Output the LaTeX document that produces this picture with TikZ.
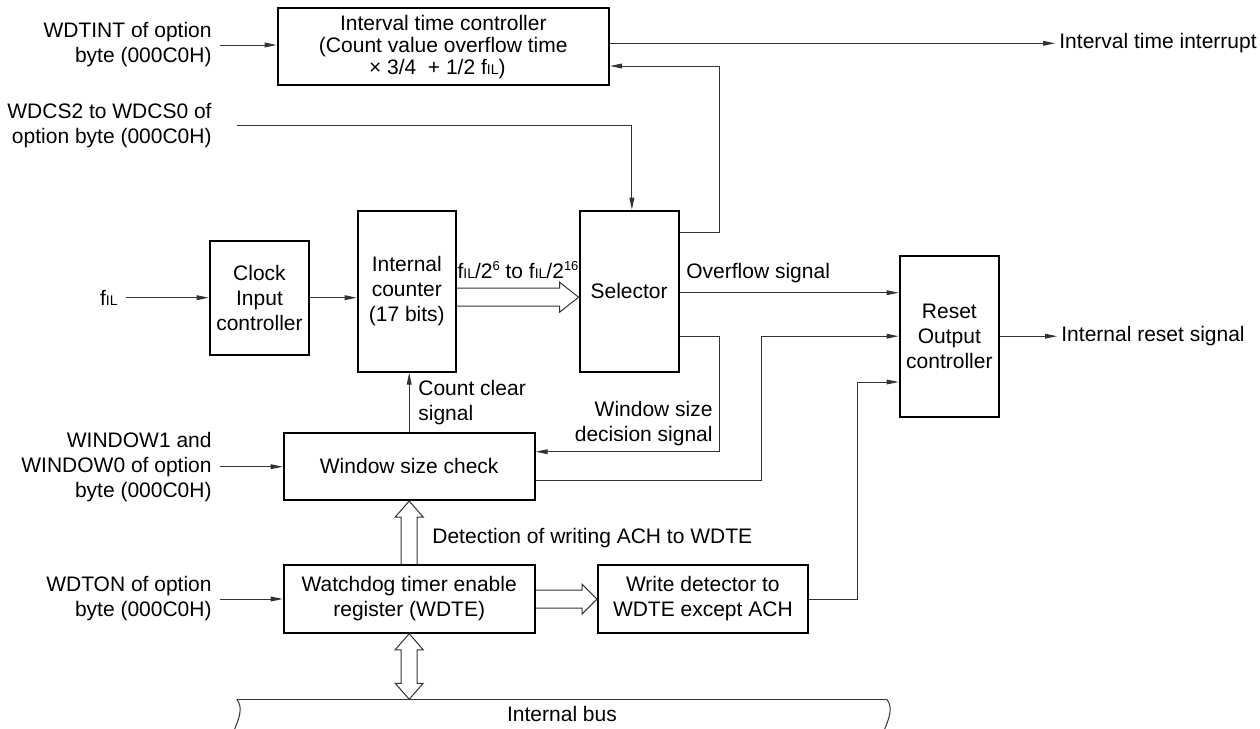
\documentclass[tikz,border=0pt]{standalone}
\usepackage{fontspec}
\setmainfont{Liberation Sans}
\usetikzlibrary{arrows.meta,positioning,calc}
\newcommand{\fIL}{f{\fontsize{7}{7}\selectfont IL}}
\newcommand{\pw}[1]{\raisebox{4.2pt}{\fontsize{6.5}{6.5}\selectfont #1}}
\tikzset{
  blockbox/.style={draw=black, line width=1pt, align=center},
  siglabel/.style={align=right, inner xsep=4pt, inner ysep=0pt, anchor=east},
  outlabel/.style={align=left, inner xsep=2pt, inner ysep=0pt, anchor=west},
  note/.style={inner sep=0pt},
  wire/.style={draw=black!80, line width=0.5pt},
  sig/.style={wire, -{Triangle[length=6pt,width=2.4pt]}},
  hollow/.style={draw=black!80, line width=0.5pt}
}

\begin{document}
\begin{tikzpicture}[x=0.5pt, y=-0.5pt, font=\fontsize{10.5}{12.5}\selectfont]
\useasboundingbox (0,0) rectangle (1260,729);

% blocks
\node[blockbox, minimum width=165.75pt, minimum height=34pt, font=\fontsize{10.5}{11}\selectfont] (itc) at (443.3,46.7)
  {Interval time controller\\(Count value overflow time\\× 3/4\ \ + 1/2 \fIL)\hspace*{6pt}};
\node[blockbox, minimum width=49.5pt, minimum height=57pt] (cic) at (259.5,297.7) {Clock\\Input\\controller};
\node[blockbox, minimum width=49.2pt, minimum height=80.5pt] (cnt) at (406.8,291.2) {Internal\\counter\\(17 bits)};
\node[blockbox, minimum width=49.5pt, minimum height=80.5pt, right=60.8pt of cnt] (sel) {Selector};
\node[blockbox, minimum width=49.35pt, minimum height=80.5pt] (rst) at (949.4,336.2) {Reset\\Output\\controller};
\node[blockbox, minimum width=125.5pt, minimum height=33.65pt] (wsc) at (409.2,466.4) {Window size check};
\node[blockbox, minimum width=125.5pt, minimum height=33.7pt, below=31.65pt of wsc] (wdte) {Watchdog timer enable\\register (WDTE)};
\node[blockbox, minimum width=104.85pt, minimum height=33.85pt, right=30.65pt of wdte] (wdet) {Write detector to\\WDTE except ACH};

% inputs and outputs
\node[siglabel] (wdtint) at (220,45) {WDTINT of option\\byte (000C0H)};
\node[siglabel] (wdcs) at (220,125.5) {WDCS2 to WDCS0 of\\option byte (000C0H)};
\node[siglabel] (fil) at (126,297.7) {\fIL};
\node[siglabel] (window) at (220,466.7) {WINDOW1 and\\WINDOW0 of option\\byte (000C0H)};
\node[siglabel] (wdton) at (220,599) {WDTON of option\\byte (000C0H)};
\node[outlabel] (intr) at (1055,43.3) {Interval time interrupt};
\node[outlabel] (resetout) at (1057,336.2) {Internal reset signal};

% signal names
\node[note] (ratio) at (518,270) {\fIL/2\pw{6} to \fIL/2\pw{16}};
\node[note, anchor=west] (ovf) at (686,273) {Overflow signal};
\node[note, anchor=east, align=right] (wsd) at (713,423.4) {Window size\\decision signal};
\node[note, anchor=west, align=left] (clr) at (418,402.5) {Count clear\\signal};
\node[note, anchor=west] (ach) at (432,538.3) {Detection of writing ACH to WDTE};

% connections
\coordinate (wdcsin) at (237,125.5);
\draw[sig] (wdtint.east) -- (wdtint.east -| itc.west);
\draw[sig] ($(itc.east)+(0,-3.4)$) -- (intr.west);
\draw[sig] ($(sel.north east)+(0,22.3)$) -- ++(40,0) |- ($(itc.east)+(0,19.3)$);
\draw[sig] (wdcsin) -| ($(sel.north)+(2.8,0)$);
\draw[sig] (fil.east) -- (cic.west);
\draw[sig] (cic.east) -- (cic.east -| cnt.west);
\draw[sig] ($(sel.east)+(0,1.5)$) -- ($(rst.west)+(0,-43.5)$);
\draw[sig] ($(sel.south east)+(0,-36)$) -- ++(40,0) |- ($(wsc.east)+(0,-14.7)$);
\draw[sig] ($(wsc.east)+(0,14.3)$) -- ++(225.3,0) |- (rst.west);
\draw[sig] (wdet.east) -- ++(48.3,0) |- ($(rst.west)+(0,45.8)$);
\draw[sig] (rst.east) -- (resetout.west);
\draw[sig] (wsc.north) -- (wsc.north |- cnt.south);
\draw[sig] (window.east) -- (window.east -| wsc.west);
\draw[sig] (wdton.east) -- (wdton.east -| wdte.west);

% hollow bus arrows
\draw[hollow] ($(cnt.east)+(0,-3)$) -- ($(sel.west)+(-19,-3)$) -- ++(0,-6) -- ($(sel.west)+(0,6)$)
  -- ++(-19,15) -- ++(0,-6) -- ($(cnt.east)+(0,15)$);
\draw[hollow] ($(wdte.north)+(-8,0)$) -- ($(wsc.south)+(-8,16)$) -- ++(-6,0) -- (wsc.south)
  -- ++(14,16) -- ++(-6,0) -- ($(wdte.north)+(8,0)$);
\coordinate (wtip) at (wdte.east -| wdet.west);
\draw[hollow] ($(wdte.east)+(0,-9)$) -- ($(wtip)+(-15,-9)$) -- ++(0,-6) -- (wtip)
  -- ++(-15,15) -- ++(0,-6) -- ($(wdte.east)+(0,9)$);

% internal bus
\coordinate (busL) at (236.7,699.3);
\coordinate (busR) at (886.7,699.3);
\coordinate (btip) at (wdte.south |- busL);
\draw[wire] (busL) -- (busR);
\draw[wire] (busL) .. controls +(7,8) and +(4,-10) .. ++(-2,29.7);
\draw[wire] (busR) .. controls +(7,8) and +(4,-10) .. ++(-2,29.7);
\node[note] (bus) at (562,714.3) {Internal bus};
\draw[hollow] (wdte.south) -- ++(14,16) -- ++(-6,0) -- ($(btip)+(8,-16)$) -- ++(6,0) -- (btip)
  -- ++(-14,-16) -- ++(6,0) -- ($(wdte.south)+(-8,16)$) -- ++(-6,0) -- cycle;
\end{tikzpicture}
\end{document}
